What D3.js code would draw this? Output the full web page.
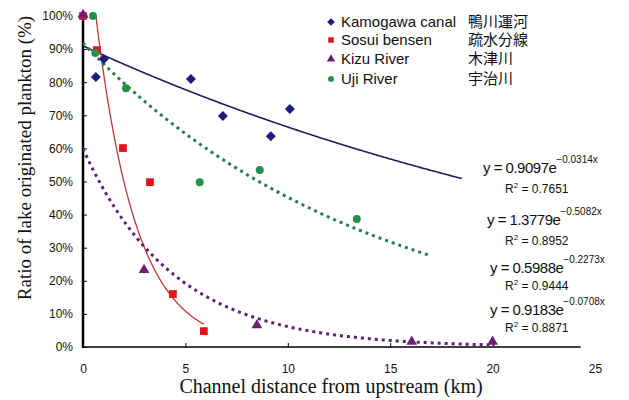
<!DOCTYPE html>
<html>
<head>
<meta charset="utf-8">
<script src="https://cdn.jsdelivr.net/npm/d3@7"></script>
<style>
  body { margin: 0; background: #fff; }
  text { font-family: "Liberation Sans", Arial, sans-serif; }
</style>
</head>
<body>
<div class="canvas"></div>
<script>
// data
const seriesNames = ['Kamogawa canal', 'Sosui bensen', 'Kizu River', 'Uji River'];
const seriesJa = ['鴨川運河', '疏水分線', '木津川', '宇治川'];

const kamoX = [0, 0.63, 1.02, 5.27, 6.83, 9.17, 10.1];
const kamoY = [1.0, 0.816, 0.87, 0.81, 0.698, 0.637, 0.719];
const sosuiX = [0, 0.68, 1.95, 3.27, 4.39, 5.9];
const sosuiY = [1.0, 0.897, 0.601, 0.498, 0.16, 0.048];
const kizuX = [0, 2.98, 8.49, 16.05, 20.0];
const kizuY = [1.0, 0.23, 0.063, 0.013, 0.013];
const ujiX = [0.49, 0.6, 2.1, 5.7, 8.63, 13.37];
const ujiY = [1.0, 0.888, 0.782, 0.498, 0.535, 0.387];

// exponential trend lines y = a e^(bx)
const trendA = [0.9097, 1.3779, 0.5988, 0.9183];
const trendB = [-0.0314, -0.5082, -0.2273, -0.0708];
const trendR2 = ['0.7651', '0.8952', '0.9444', '0.8871'];
const trendEnd = [18.5, 5.9, 20.1, 17];

const xTicks = [0, 5, 10, 15, 20, 25];
const yTicks = [0, 0.1, 0.2, 0.3, 0.4, 0.5, 0.6, 0.7, 0.8, 0.9, 1.0];

const colors = ['#1c1c80', '#e3121c', '#6e1f72', '#259048'];
const lineColors = ['#1e1e60', '#c23a3a', '#5a2276', '#2b7c4c'];
// diamond is a square turned 45 degrees
const shapes = [d3.symbolSquare, d3.symbolSquare, d3.symbolTriangle, d3.symbolCircle];
const turns = [45, 0, 0, 0];
const sizes = [50, 60, 50, 50];

const WIDTH = 629, HEIGHT = 400;

const svg = d3.select('.canvas').append('svg')
  .attr('width', WIDTH)
  .attr('height', HEIGHT);

const x = d3.scaleLinear().domain([0, 25]).range([83, 595]);
const y = d3.scaleLinear().domain([0, 1]).range([347, 16]);

// clip for trend lines
svg.append('clipPath').attr('id', 'plot')
  .append('rect')
  .attr('x', x(0)).attr('y', y(1))
  .attr('width', x(25) - x(0)).attr('height', y(0) - y(1));

// axes
const yAxis = d3.axisLeft(y)
  .tickValues(yTicks)
  .tickSize(-4)
  .tickPadding(10)
  .tickFormat(d3.format('.0%'));

const yAxisGroup = svg.append('g')
  .attr('class', 'y-axis')
  .attr('transform', `translate(${x(0)}, 0)`)
  .call(yAxis);
yAxisGroup.select('.domain').remove();
yAxisGroup.selectAll('.tick line').attr('stroke', '#000');
yAxisGroup.selectAll('text')
  .style('font-size', '12px')
  .attr('fill', '#111');

const xAxis = d3.axisBottom(x)
  .tickValues(xTicks)
  .tickSize(-4)
  .tickPadding(17)
  .tickFormat(d3.format('d'));

const xAxisGroup = svg.append('g')
  .attr('class', 'x-axis')
  .attr('transform', `translate(0, ${y(0)})`)
  .call(xAxis);
xAxisGroup.select('.domain').remove();
xAxisGroup.selectAll('.tick line').attr('stroke', '#000');
xAxisGroup.selectAll('.tick').filter(d => d === 0 || d === 25).select('line').remove();
xAxisGroup.selectAll('text')
  .style('font-size', '12px')
  .attr('fill', '#111');

svg.append('line')
  .attr('x1', x(0)).attr('x2', x(24.3))
  .attr('y1', y(0)).attr('y2', y(0))
  .attr('stroke', '#000')
  .attr('stroke-width', 1.5);

svg.append('line')
  .attr('x1', x(0)).attr('x2', x(0))
  .attr('y1', y(0) + 1).attr('y2', y(1))
  .attr('stroke', '#000')
  .attr('stroke-width', 2.5);

// axis titles
svg.append('text')
  .attr('x', 331)
  .attr('y', 393)
  .attr('text-anchor', 'middle')
  .style('font-family', '"Liberation Serif", "Times New Roman", serif')
  .style('font-size', '20px')
  .attr('fill', '#111')
  .text('Channel distance from upstream (km)');

svg.append('text')
  .attr('transform', 'translate(31, 158) rotate(-90)')
  .attr('text-anchor', 'middle')
  .style('font-family', '"Liberation Serif", "Times New Roman", serif')
  .style('font-size', '19px')
  .attr('fill', '#111')
  .text('Ratio of lake originated plankton (%)');

// trend lines
const line = d3.line()
  .x(d => x(d[0]))
  .y(d => y(d[1]));

const trends = svg.append('g').attr('clip-path', 'url(#plot)');
trendA.forEach((a, i) => {
  const pts = d3.range(0, trendEnd[i] + 0.001, 0.05).map(t => [t, a * Math.exp(trendB[i] * t)]);
  const p = trends.append('path')
    .datum(pts)
    .attr('fill', 'none')
    .attr('stroke', lineColors[i])
    .attr('d', line);
  if (i === 0) p.attr('stroke-width', 1.6);
  if (i === 1) p.attr('stroke-width', 1.3);
  if (i >= 2) p.attr('stroke-width', 3).attr('stroke-dasharray', '3,4');
});

// points
const pointsX = [kamoX, sosuiX, kizuX, ujiX];
const pointsY = [kamoY, sosuiY, kizuY, ujiY];
pointsX.forEach((xs, i) => {
  svg.append('g')
    .selectAll('path')
    .data(xs.map((v, j) => [v, pointsY[i][j]]))
    .join('path')
    .attr('d', d3.symbol().type(shapes[i]).size(sizes[i]))
    .attr('transform', d => `translate(${x(d[0])}, ${y(d[1]) - (i === 2 ? 1 : 0)}) rotate(${turns[i]})`)
    .attr('fill', colors[i]);
});

// legend
const legendRows = [27, 45, 64, 84];
const legend = svg.append('g').attr('class', 'legend');
seriesNames.forEach((name, i) => {
  legend.append('path')
    .attr('d', d3.symbol().type(shapes[i]).size(i === 3 ? 28 : 30))
    .attr('transform', `translate(331, ${legendRows[i] - 5}) rotate(${turns[i]})`)
    .attr('fill', colors[i]);
  legend.append('text')
    .attr('x', 341).attr('y', legendRows[i])
    .style('font-size', '15px')
    .attr('fill', '#111')
    .text(name);
  legend.append('text')
    .attr('x', 468).attr('y', legendRows[i])
    .style('font-family', '"Noto Sans CJK JP", sans-serif')
    .style('font-size', '15px')
    .attr('fill', '#111')
    .text(seriesJa[i]);
});

// equations
const eqRows = [173, 225, 273, 315];
const r2Rows = [193, 245, 290, 332];
const eqX = [483, 487, 490, 490];
const eqFmt = d3.format('.4f');
trendA.forEach((a, i) => {
  const t = svg.append('text')
    .attr('x', eqX[i]).attr('y', eqRows[i])
    .style('font-size', '15px')
    .style('letter-spacing', '-0.5px')
    .attr('fill', '#111');
  t.append('tspan').text(`y = ${a.toFixed(4)}e`);
  t.append('tspan')
    .attr('dy', -10)
    .style('font-size', '10px')
    .style('letter-spacing', '0px')
    .text(`${eqFmt(trendB[i])}x`);
  const r = svg.append('text')
    .attr('x', 505).attr('y', r2Rows[i])
    .style('font-size', '12px')
    .attr('fill', '#111');
  r.append('tspan').text('R');
  r.append('tspan').attr('dy', -5).style('font-size', '8px').text('2');
  r.append('tspan').attr('dy', 5).text(` = ${trendR2[i]}`);
});
</script>
</body>
</html>
